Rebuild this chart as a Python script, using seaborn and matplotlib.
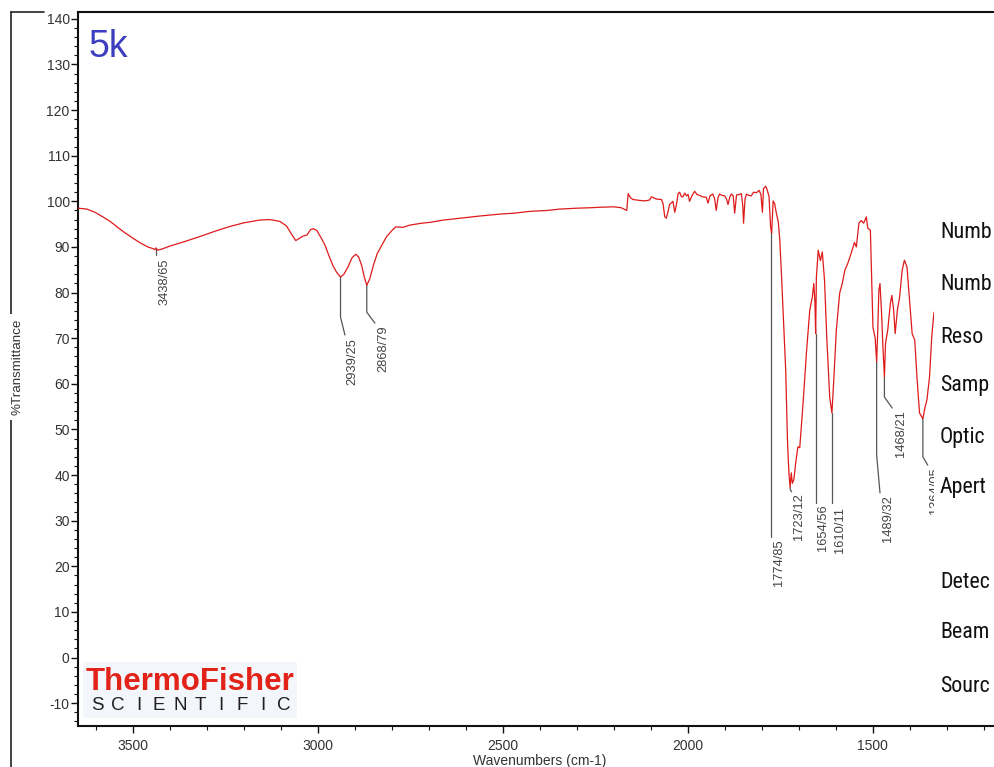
import numpy as np
import pandas as pd
import matplotlib
matplotlib.use("Agg")
import matplotlib.pyplot as plt
import seaborn as sns
from matplotlib.lines import Line2D
from matplotlib.patches import Rectangle
from matplotlib.ticker import MultipleLocator
from matplotlib import font_manager
from matplotlib.font_manager import FontProperties

# spectrum (cm-1, %T)
wavenumber = [
    3649, 3625, 3603, 3580, 3562, 3540, 3522, 3500, 3481, 3460, 3445, 3442, 3438, 3434, 3420,
    3400, 3360, 3319, 3280, 3238, 3200, 3157, 3130, 3103, 3085, 3070, 3060, 3052, 3040, 3030,
    3020, 3012, 3003, 2990, 2980, 2970, 2960, 2950, 2939, 2930, 2919, 2908, 2898, 2890, 2882,
    2875, 2868, 2860, 2850, 2840, 2830, 2815, 2800, 2790, 2770, 2751, 2720, 2697, 2660, 2616,
    2560, 2508, 2470, 2427, 2380, 2346, 2300, 2260, 2238, 2200, 2180, 2170, 2165, 2161, 2155,
    2148, 2130, 2115, 2103, 2098, 2085, 2071, 2067, 2062, 2058, 2053, 2049, 2040, 2035, 2030,
    2026, 2022, 2017, 2013, 2008, 2003, 1999, 1995, 1988, 1981, 1975, 1968, 1960, 1950, 1945,
    1940, 1932, 1927, 1923, 1918, 1914, 1907, 1900, 1895, 1891, 1886, 1882, 1877, 1873, 1868,
    1860, 1855, 1851, 1849, 1845, 1841, 1835, 1828, 1822, 1814, 1807, 1802, 1798, 1795, 1789,
    1785, 1780, 1776, 1773, 1769, 1765, 1760, 1755, 1751, 1747, 1741, 1735, 1730, 1726, 1723,
    1720, 1717, 1713, 1708, 1702, 1697, 1688, 1679, 1670, 1663, 1659, 1656, 1654, 1652, 1647,
    1641, 1636, 1630, 1624, 1616, 1610, 1605, 1598, 1589, 1582, 1575, 1567, 1558, 1549, 1544,
    1537, 1531, 1524, 1517, 1513, 1506, 1503, 1499, 1493, 1489, 1486, 1483, 1480, 1476, 1472,
    1468, 1465, 1462, 1459, 1452, 1448, 1443, 1439, 1433, 1427, 1420, 1414, 1407, 1400, 1393,
    1386, 1380, 1373, 1366, 1364, 1358, 1353, 1346, 1340, 1334,
]
transmittance = [
    98.5, 98.3, 97.6, 96.5, 95.6, 94.2, 93.1, 91.9, 90.9, 90.0, 89.6, 89.4, 89.8, 89.3, 89.6,
    90.2, 91.2, 92.3, 93.4, 94.5, 95.3, 95.9, 96.0, 95.6, 94.6, 92.6, 91.4, 91.8, 92.4, 92.6,
    93.8, 94.0, 93.6, 91.8, 90.2, 88.0, 86.0, 84.5, 83.4, 84.0, 85.6, 87.6, 88.4, 87.8, 86.0,
    83.5, 81.6, 83.0, 86.0, 88.5, 90.0, 92.2, 93.6, 94.4, 94.3, 94.8, 95.2, 95.4, 95.9, 96.3,
    96.8, 97.2, 97.4, 97.8, 98.0, 98.3, 98.5, 98.6, 98.7, 98.8, 98.6, 98.2, 98.0, 101.7, 100.8,
    100.4, 100.2, 100.1, 100.3, 101.0, 100.5, 100.4, 99.6, 96.6, 96.3, 97.8, 99.3, 100.0, 97.6, 99.5,
    101.7, 102.0, 101.0, 101.0, 101.8, 101.2, 101.5, 100.0, 101.3, 102.2, 101.5, 101.3, 101.0, 100.9, 99.6,
    101.2, 101.6, 100.5, 98.0, 100.8, 101.6, 101.3, 101.2, 100.5, 99.3, 101.0, 101.6, 101.2, 97.4, 101.4,
    101.5, 101.7, 99.0, 95.2, 100.5, 101.6, 101.3, 101.2, 102.0, 101.9, 102.4, 101.5, 97.6, 102.8, 103.3,
    102.5, 101.0, 94.5, 93.0, 100.1, 99.5, 97.3, 95.5, 91.5, 85.0, 74.0, 63.0, 47.0, 40.0, 37.4,
    40.5, 38.2, 39.0, 42.6, 46.2, 46.0, 55.8, 66.7, 76.1, 79.0, 82.0, 78.0, 71.0, 83.4, 89.3,
    87.0, 88.9, 82.7, 70.3, 57.1, 53.6, 60.8, 71.8, 79.9, 82.0, 84.9, 86.4, 88.6, 91.0, 90.0,
    95.2, 95.8, 95.2, 96.6, 94.1, 93.7, 84.9, 72.4, 70.0, 64.8, 71.8, 80.5, 82.0, 76.0, 68.0,
    61.5, 68.9, 70.3, 71.8, 77.6, 79.4, 76.1, 71.0, 76.1, 79.0, 84.9, 87.1, 85.6, 78.3, 71.0,
    69.6, 61.5, 53.6, 52.6, 52.4, 54.9, 56.5, 61.5, 70.3, 75.7,
]

# peak picks
peak_wn = [3438, 2939, 2868, 1774, 1723, 1654, 1610, 1489, 1468, 1364]
peak_text = ["3438/65", "2939/25", "2868/79", "1774/85", "1723/12",
             "1654/56", "1610/11", "1489/32", "1468/21", "1364/05"]
# leader layout: (bend %T, end cm-1, end %T, text cm-1, text top %T)
peak_leader = [
    (88.2, 3438, 88.2, 3416, 87.5),
    (74.6, 2927, 70.7, 2908, 70.0),
    (75.7, 2846, 73.3, 2824, 72.9),
    (26.5, 1774, 26.5, 1754, 26.0),
    (36.9, 1719, 36.3, 1700, 36.1),
    (33.9, 1654, 33.9, 1635, 33.5),
    (33.9, 1610, 33.9, 1589, 33.0),
    (44.4, 1480, 36.1, 1457, 35.7),
    (57.1, 1447, 54.7, 1422, 54.3),
    (44.0, 1351, 42.2, 1332, 41.8),
]

# instrument info, only the part visible at the right edge of the reference
info_lines = ["Numb", "Numb", "Reso", "Samp", "Optic", "Apert", "Detec", "Beam", "Sourc"]
info_y = [233, 285, 337, 386, 437, 488, 582, 633, 686]

sns.set_style("ticks")
plt.rcParams["font.family"] = ["Liberation Sans", "DejaVu Sans"]
plt.rcParams["axes.unicode_minus"] = False


def pick_narrow():
    pref = ["Liberation Sans Narrow", "Arial Narrow", "Roboto Condensed",
            "Open Sans Condensed", "DejaVu Sans Condensed"]
    good = []
    for f in font_manager.fontManager.ttflist:
        if f.style != "normal" or f.weight not in (400, "normal", "regular"):
            continue
        if "Narrow" in f.name or "Condensed" in f.name or str(f.stretch) in (
                "condensed", "semi-condensed", "extra-condensed", "ultra-condensed"):
            good.append(f)
    for p in pref:
        for f in good:
            if f.name == p:
                return f.fname
    return good[0].fname if good else None


narrow_file = pick_narrow()

W, H = 994, 767
fig = plt.figure(figsize=(W / 100, H / 100), dpi=100)
ax = fig.add_axes([78 / W, 41 / H, (1002 - 78) / W, (726 - 12) / H])

df = pd.DataFrame({"wn": wavenumber, "T": transmittance})
sns.lineplot(data=df, x="wn", y="T", ax=ax, color="#de1a1a", lw=0.9,
             estimator=None, sort=False, zorder=3)

ax.set_xlim(3649, 1150)
ax.set_ylim(-15, 141.5)
ax.xaxis.set_major_locator(MultipleLocator(500))
ax.xaxis.set_minor_locator(MultipleLocator(100))
ax.yaxis.set_major_locator(MultipleLocator(10))
ax.yaxis.set_minor_locator(MultipleLocator(2))
ax.tick_params(which="major", length=5, width=1, colors="#111", labelcolor="#333",
               labelsize=10)
ax.tick_params(which="minor", length=3, width=0.8, colors="#111")
ax.tick_params(axis="y", pad=1)
ax.tick_params(axis="x", pad=4)
ax.set_yticks(np.arange(-10, 141, 10))
for s in ["left", "bottom", "top"]:
    ax.spines[s].set_linewidth(1.5)
    ax.spines[s].set_color("#111")
ax.spines["right"].set_visible(False)
ax.set_xlabel("Wavenumbers (cm-1)", fontsize=10, color="#333", labelpad=1)
ax.set_ylabel("")

# peak labels with leader lines
for wn, txt, (bend, ex, ey, tx, ty) in zip(peak_wn, peak_text, peak_leader):
    t0 = np.interp(wn, wavenumber[::-1], transmittance[::-1])
    ax.plot([wn, wn, ex], [t0, bend, ey], color="#555", lw=0.9, zorder=2)
    ax.text(tx, ty, txt, rotation=90, ha="center", va="top", fontsize=9.3,
            color="#444", zorder=2)

# white panel holding the instrument info (covers the rest of the spectrum)
ax.add_patch(Rectangle((1333, -14), -(1333 - 1150), 120, facecolor="white",
                       edgecolor="none", zorder=4))
info_texts = []
for line, yy in zip(info_lines, info_y):
    if narrow_file:
        fp = FontProperties(fname=narrow_file, size=22)
    else:
        fp = FontProperties(family="Liberation Sans", size=22)
    info_texts.append(fig.text(940 / W, 1 - yy / H, line, fontproperties=fp,
                               color="#111", va="center", ha="left", zorder=6))

# shrink the info block until every line fits inside the picture
for _ in range(4):
    fig.canvas.draw()
    rend = fig.canvas.get_renderer()
    right = max(t.get_window_extent(rend).x1 for t in info_texts)
    if right <= W - 2:
        break
    scale = (W - 2 - 940) / (right - 940)
    for t in info_texts:
        t.set_fontsize(t.get_fontsize() * scale * 0.99)

fig.text(89 / W, 1 - 29 / H, "5k", fontsize=27, color="#3d3dbf", va="top", ha="left")

# outer frame
fig.add_artist(Line2D([11 / W, 11 / W], [0, 1 - 12 / H], color="#222", lw=1.2))
fig.add_artist(Line2D([11 / W, 44 / W], [1 - 12 / H, 1 - 12 / H], color="#222", lw=1.2))
fig.text(18 / W, 1 - 367 / H, "%Transmittance", rotation=90, ha="center", va="center",
         fontsize=9.6, color="#333",
         bbox=dict(boxstyle="square,pad=0.35", fc="white", ec="none"))

# logo
fig.add_artist(Rectangle((83 / W, 1 - 718 / H), 214 / W, 56 / H, transform=fig.transFigure,
                         facecolor="#f3f6fa", edgecolor="none", zorder=5))
fig.text(86 / W, 1 - 690 / H, "ThermoFisher", fontsize=22.5, weight="bold",
         color="#e2231a", va="baseline", ha="left", zorder=6)
for i, ch in enumerate("SCIENTIFIC"):
    fig.text((97 + i * 20.7) / W, 1 - 710 / H, ch, fontsize=13.5, color="#231f20",
             va="baseline", ha="center", zorder=6)

fig.savefig("out.png", dpi=100)
